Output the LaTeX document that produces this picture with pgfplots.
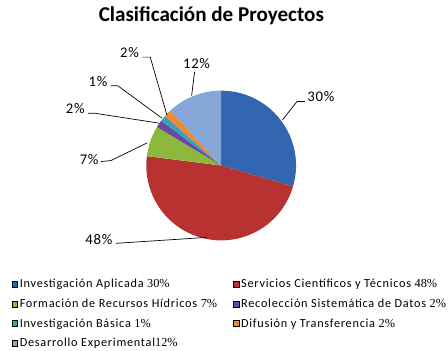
\documentclass[border=0pt]{standalone}
\usepackage{pgfplots}
\pgfplotsset{compat=1.18}
\usepackage{pgfplotstable}
\usepackage{fontspec}
\setmainfont{Carlito}
\newfontfamily\serifnum{Liberation Serif}
\newfontfamily\legfont[LetterSpace=6]{Carlito}
\newfontfamily\labfont[LetterSpace=5]{Carlito}
\definecolor{c0}{HTML}{3266B0}
\definecolor{c1}{HTML}{B83232}
\definecolor{c2}{HTML}{8DB83E}
\definecolor{c3}{HTML}{6A4A9E}
\definecolor{c4}{HTML}{3AA0C0}
\definecolor{c5}{HTML}{F08A30}
\definecolor{c6}{HTML}{86A6D8}
\pgfplotstableread{
idx value
0 29.5
1 47.5
2 6.6
3 1.6
4 1.3
5 1.6
6 11.9
}\piedata
\begin{document}
\def\cum{0}
\foreach \i in {0,...,6}{%
  \pgfplotstablegetelem{\i}{value}\of\piedata
  \pgfmathsetmacro\sa{90-3.6*\cum}%
  \pgfmathsetmacro\newcum{\cum+\pgfplotsretval}%
  \pgfmathsetmacro\ea{90-3.6*\newcum}%
  \expandafter\xdef\csname sa\i\endcsname{\sa}%
  \expandafter\xdef\csname ea\i\endcsname{\ea}%
  \xdef\cum{\newcum}%
}
\begin{tikzpicture}
\begin{axis}[
  width=448bp, height=354bp, scale only axis,
  xmin=0, xmax=448, ymin=0, ymax=354,
  hide axis, clip=false,
  legend columns=2,
  legend style={draw=none, fill=none, at={(axis cs:7,73)}, anchor=north west,
    font=\fontsize{12.5}{14}\selectfont\legfont, row sep=6bp,
    /tikz/every even column/.append style={column sep=14bp},
    inner sep=0pt},
  legend cell align=left,
  legend image code/.code={\fill[#1] (0bp,-3bp) rectangle (6bp,3bp);},
]
\path (axis cs:0,0) rectangle (axis cs:448,354);
\pgfplotsinvokeforeach{0,...,6}{
  \fill[c#1] (axis cs:220,186) -- ++(\csname sa#1\endcsname:76bp)
     arc[start angle=\csname sa#1\endcsname, end angle=\csname ea#1\endcsname, radius=76bp] -- cycle;
}
\addlegendimage{fill=c0}\addlegendentry{Investigación Aplicada {\serifnum 30\%}}
\addlegendimage{fill=c1}\addlegendentry{Servicios Científicos y Técnicos {\serifnum 48\%}}
\addlegendimage{fill=c2}\addlegendentry{Formación de Recursos Hídricos {\serifnum 7\%}}
\addlegendimage{fill=c3}\addlegendentry{Recolección Sistemática de Datos {\serifnum 2\%}}
\addlegendimage{fill=c4}\addlegendentry{Investigación Básica {\serifnum 1\%}}
\addlegendimage{fill=c5}\addlegendentry{Difusión y Transferencia {\serifnum 2\%}}
\addlegendimage{fill=c6}\addlegendentry{Desarrollo Experimental{\serifnum 12\%}}
% title
\node[font=\fontsize{21.5}{23}\selectfont\bfseries] at (axis cs:210,338) {Clasificación de Proyectos};
% leader lines
\draw[black, line width=0.7bp] (axis cs:282,232) -- (axis cs:297,251) -- (axis cs:305,251);
\node[font=\fontsize{15}{17}\selectfont\labfont, anchor=west] at (axis cs:304,256) {30\%};
\draw[black, line width=0.7bp] (axis cs:205,113) -- (axis cs:113,107);
\node[font=\fontsize{15}{17}\selectfont\labfont, anchor=east] at (axis cs:113,111) {48\%};
\draw[black, line width=0.7bp] (axis cs:145,209) -- (axis cs:108,191) -- (axis cs:98,190);
\node[font=\fontsize{15}{17}\selectfont\labfont, anchor=east] at (axis cs:99,192) {7\%};
\draw[black, line width=0.7bp] (axis cs:157,229) -- (axis cs:92,239) -- (axis cs:85,239);
\node[font=\fontsize{15}{17}\selectfont\labfont, anchor=east] at (axis cs:85,244) {2\%};
\draw[black, line width=0.7bp] (axis cs:160,234) -- (axis cs:115,267) -- (axis cs:108,267);
\node[font=\fontsize{15}{17}\selectfont\labfont, anchor=east] at (axis cs:108,271) {1\%};
\draw[black, line width=0.7bp] (axis cs:165,237) -- (axis cs:148,296) -- (axis cs:140,296);
\node[font=\fontsize{15}{17}\selectfont\labfont, anchor=east] at (axis cs:140,301) {2\%};
\draw[black, line width=0.7bp] (axis cs:190,257) -- (axis cs:193,281);
\node[font=\fontsize{15}{17}\selectfont\labfont] at (axis cs:195,290) {12\%};
\end{axis}
\end{tikzpicture}
\end{document}
